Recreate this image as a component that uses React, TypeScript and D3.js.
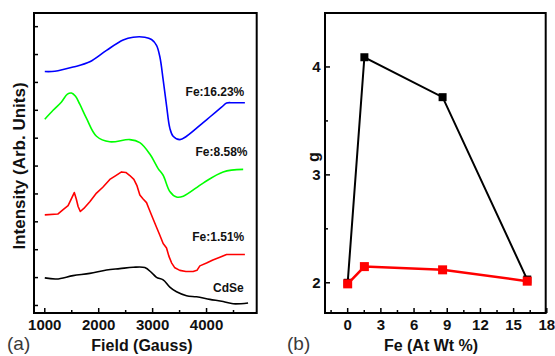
import React from "react";
import * as d3 from "d3";

// ---- Panel (a): EPR spectra, field in Gauss vs. offset intensity (arb. units)
const fieldTicks = [1000, 2000, 3000, 4000];
const fieldMinorTicks = [1500, 2500, 3500, 4500];
const intensityTicks = [0, 1, 2, 3, 4, 5, 6, 7, 8, 9, 10];

const blueField = [1000, 1186, 1525, 1835, 2145, 2453, 2638, 2855, 2980, 3072, 3134, 3195, 3258, 3319, 3380, 3505, 3629, 3937, 4061, 4278, 4371, 4493, 4711];
const blueInt = [8.39, 8.40, 8.55, 8.74, 9.15, 9.52, 9.62, 9.62, 9.54, 9.33, 8.92, 8.10, 7.17, 6.36, 6.07, 5.95, 6.07, 6.56, 6.76, 7.11, 7.26, 7.27, 7.27];

const greenField = [1000, 1154, 1310, 1420, 1495, 1570, 1649, 1774, 1959, 2206, 2577, 2763, 2948, 3102, 3195, 3319, 3443, 3569, 3937, 4308, 4679];
const greenInt = [6.68, 7.00, 7.30, 7.58, 7.62, 7.50, 7.22, 6.71, 6.07, 5.87, 5.95, 5.84, 5.43, 4.91, 4.67, 4.09, 3.89, 3.92, 4.39, 4.79, 4.88];

const redField = [1000, 1241, 1340, 1432, 1501, 1547, 1584, 1618, 1659, 1724, 1835, 1959, 2076, 2206, 2317, 2423, 2503, 2577, 2652, 2707, 2763, 2824, 2887, 2930, 3009, 3078, 3134, 3195, 3258, 3301, 3351, 3412, 3505, 3617, 3751, 3822, 3876, 4000, 4117, 4247, 4371, 4525, 4711];
const redInt = [3.25, 3.28, 3.44, 3.58, 3.86, 4.05, 3.82, 3.55, 3.37, 3.48, 3.72, 4.03, 4.24, 4.52, 4.66, 4.79, 4.77, 4.66, 4.52, 4.31, 3.96, 3.82, 3.69, 3.48, 3.10, 2.78, 2.52, 2.22, 2.06, 1.77, 1.53, 1.35, 1.26, 1.22, 1.22, 1.26, 1.42, 1.52, 1.63, 1.73, 1.83, 1.83, 1.83];

const blackField = [1000, 1217, 1525, 1835, 2145, 2391, 2638, 2855, 2980, 3072, 3195, 3319, 3443, 3629, 3814, 4061, 4308, 4493, 4770];
const blackInt = [0.99, 0.95, 1.07, 1.15, 1.27, 1.32, 1.37, 1.36, 1.18, 1.01, 0.92, 0.66, 0.49, 0.35, 0.31, 0.22, 0.14, 0.06, 0.09];

const spectraNames = ["Fe:16.23%", "Fe:8.58%", "Fe:1.51%", "CdSe"];

// ---- Panel (b): g-factor vs Fe content
const feContent = [0, 1.51, 8.58, 16.23];
const gHigh = [2.0, 4.09, 3.72, 2.03];
const gLow = [1.99, 2.15, 2.12, 2.015];
const feTicks = [0, 3, 6, 9, 12, 15, 18];
const feMinorTicks = [-1.5, 1.5, 4.5, 7.5, 10.5, 13.5, 16.5];
const gTicks = [2, 3, 4];
const gMinorTicks = [2.5, 3.5];

const W = 555;
const H = 356;
const TOP = 13;
const BOTTOM = 313;
const FONT = "'Liberation Sans', Arial, sans-serif";

export default function App() {
  // panel (a) scales
  const xA = d3.scaleLinear().domain([800, 4930]).range([34, 256.7]);
  const yA = d3.scaleLinear().domain([-0.27, 10.49]).range([BOTTOM, TOP]);
  // panel (b) scales
  const xB = d3.scaleLinear().domain([-2.05, 17.9]).range([325, 545.7]);
  const yB = d3.scaleLinear().domain([1.72, 4.5]).range([BOTTOM, TOP]);

  const smooth = d3
    .line<[number, number]>()
    .x((d) => xA(d[0]))
    .y((d) => yA(d[1]))
    .curve(d3.curveCatmullRom.alpha(0.5));
  const jagged = d3
    .line<[number, number]>()
    .x((d) => xA(d[0]))
    .y((d) => yA(d[1]));

  const zip = (a: number[], b: number[]) => a.map((v, i) => [v, b[i]] as [number, number]);

  const spectra = [
    { pts: zip(blueField, blueInt), color: "#0000ff", gen: smooth },
    { pts: zip(greenField, greenInt), color: "#00ff00", gen: smooth },
    { pts: zip(redField, redInt), color: "#ff0000", gen: jagged },
    { pts: zip(blackField, blackInt), color: "#000000", gen: smooth },
  ];

  // label anchor (right end) field and intensity for each spectrum label
  const labelField = [4700, 4760, 4700, 4690];
  const labelInt = [7.5, 5.35, 2.3, 0.5];

  const lineB = d3
    .line<[number, number]>()
    .x((d) => xB(d[0]))
    .y((d) => yB(d[1]));

  const highPts = zip(feContent, gHigh);
  const lowPts = zip(feContent, gLow);

  return (
    <svg
      width={W}
      height={H}
      style={{ position: "absolute", left: 0, top: 0, background: "#fff" }}
      fontFamily={FONT}
    >
      {/* ---------- panel (a) ---------- */}
      <g>
        {spectra.map((s, i) => (
          <path
            key={i}
            d={s.gen(s.pts) || ""}
            fill="none"
            stroke={s.color}
            strokeWidth={1.6}
            strokeLinejoin="round"
          />
        ))}
        {spectraNames.map((n, i) => (
          <text
            key={n}
            x={xA(labelField[i])}
            y={yA(labelInt[i])}
            textAnchor="end"
            fontSize={12}
            fontWeight="bold"
            fill="#111"
          >
            {n}
          </text>
        ))}
        <rect x={34} y={TOP} width={256.7 - 34} height={BOTTOM - TOP} fill="none" stroke="#000" strokeWidth={2} />
        {intensityTicks.map((t) => (
          <line key={t} x1={34} x2={38} y1={yA(t)} y2={yA(t)} stroke="#000" strokeWidth={1.5} />
        ))}
        {fieldTicks.map((t) => (
          <g key={t}>
            <line x1={xA(t)} x2={xA(t)} y1={BOTTOM} y2={BOTTOM - 5} stroke="#000" strokeWidth={1.5} />
            <text x={xA(t)} y={330} textAnchor="middle" fontSize={15} fontWeight="bold" fill="#111">
              {t}
            </text>
          </g>
        ))}
        {fieldMinorTicks.map((t) => (
          <line key={t} x1={xA(t)} x2={xA(t)} y1={BOTTOM} y2={BOTTOM - 3} stroke="#000" strokeWidth={1.5} />
        ))}
        <text x={142} y={350.5} textAnchor="middle" fontSize={16} fontWeight="bold" fill="#111">
          Field (Gauss)
        </text>
        <text
          transform="translate(25,166) rotate(-90)"
          textAnchor="middle"
          fontSize={17}
          fontWeight="bold"
          fill="#111"
        >
          Intensity (Arb. Units)
        </text>
        <text x={7} y={350} fontSize={19} fill="#3a3a3a">
          (a)
        </text>
      </g>

      {/* ---------- panel (b) ---------- */}
      <g>
        <rect x={325} y={TOP} width={545.7 - 325} height={BOTTOM - TOP} fill="none" stroke="#000" strokeWidth={2} />
        {gTicks.map((t) => (
          <g key={t}>
            <line x1={325} x2={330} y1={yB(t)} y2={yB(t)} stroke="#000" strokeWidth={1.5} />
            <text x={320.5} y={yB(t) + 5.4} textAnchor="end" fontSize={15} fontWeight="bold" fill="#111">
              {t}
            </text>
          </g>
        ))}
        {gMinorTicks.map((t) => (
          <line key={t} x1={325} x2={328} y1={yB(t)} y2={yB(t)} stroke="#000" strokeWidth={1.5} />
        ))}
        {feTicks.map((t) => (
          <g key={t}>
            <line x1={xB(t)} x2={xB(t)} y1={BOTTOM} y2={BOTTOM - 5} stroke="#000" strokeWidth={1.5} />
            <text x={xB(t)} y={330} textAnchor="middle" fontSize={15} fontWeight="bold" fill="#111">
              {t}
            </text>
          </g>
        ))}
        {feMinorTicks.map((t) => (
          <line key={t} x1={xB(t)} x2={xB(t)} y1={BOTTOM} y2={BOTTOM - 3} stroke="#000" strokeWidth={1.5} />
        ))}

        <path d={lineB(highPts) || ""} fill="none" stroke="#000" strokeWidth={2} />
        {highPts.map((p, i) => (
          <rect key={i} x={xB(p[0]) - 4} y={yB(p[1]) - 4} width={8} height={8} fill="#000" />
        ))}
        <path d={lineB(lowPts) || ""} fill="none" stroke="#ff0000" strokeWidth={2.5} />
        {lowPts.map((p, i) => (
          <rect key={i} x={xB(p[0]) - 4.5} y={yB(p[1]) - 4.5} width={9} height={9} fill="#ff0000" />
        ))}

        <text x={431} y={351} textAnchor="middle" fontSize={16} fontWeight="bold" fill="#111">
          Fe (At Wt %)
        </text>
        <text
          transform="translate(319,157) rotate(-90)"
          textAnchor="middle"
          fontSize={16}
          fontWeight="bold"
          fill="#111"
        >
          g
        </text>
        <text x={287} y={350} fontSize={19} fill="#3a3a3a">
          (b)
        </text>
      </g>
    </svg>
  );
}
